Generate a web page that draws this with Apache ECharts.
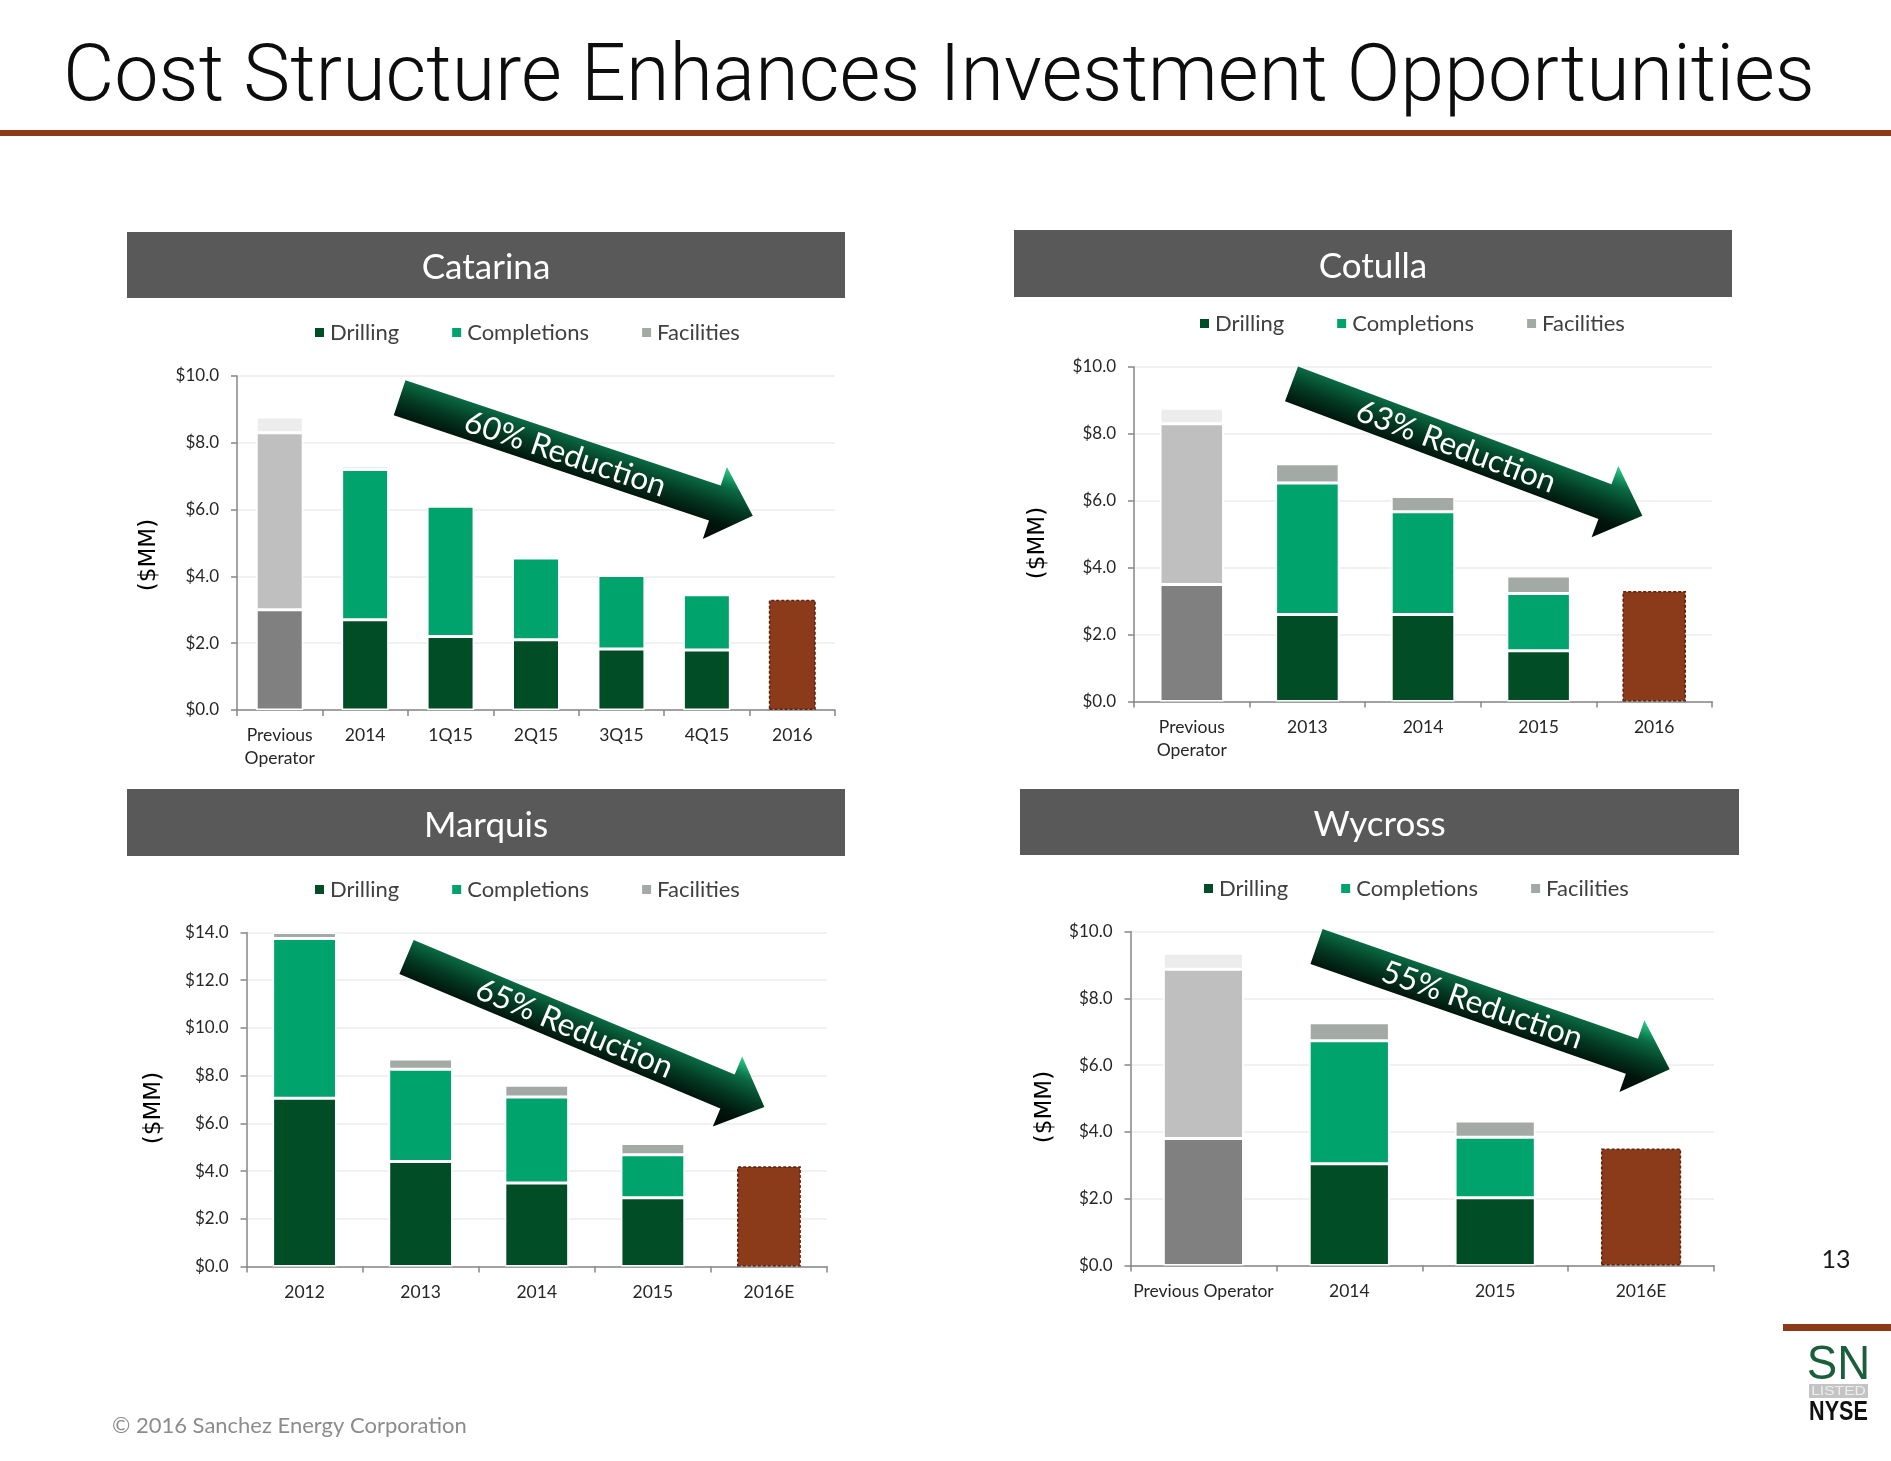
<!DOCTYPE html>
<html><head><meta charset="utf-8">
<script src="https://cdn.jsdelivr.net/npm/echarts/dist/echarts.min.js"></script>
<style>html,body{margin:0;padding:0;background:#fff}#c{width:1891px;height:1461px}</style>
</head><body><div id="c"></div><script>
// ---------- data ----------
const catarinaCats = ['Previous\nOperator','2014','1Q15','2Q15','3Q15','4Q15','2016'];
const catarinaDrilling = [3.0, 2.7, 2.2, 2.1, 1.83, 1.8, null];
const catarinaCompletions = [5.3, 4.5, 3.9, 2.45, 2.2, 1.65, null];
const catarinaFacilities = [0.47, 0.1, 0.05, 0.08, 0.08, 0.09, null];
const catarinaTarget = [null, null, null, null, null, null, 3.3];

const cotullaCats = ['Previous\nOperator','2013','2014','2015','2016'];
const cotullaDrilling = [3.5, 2.6, 2.6, 1.52, null];
const cotullaCompletions = [4.8, 3.93, 3.07, 1.71, null];
const cotullaFacilities = [0.47, 0.58, 0.46, 0.52, null];
const cotullaTarget = [null, null, null, null, 3.3];

const marquisCats = ['2012','2013','2014','2015','2016E'];
const marquisDrilling = [7.05, 4.4, 3.5, 2.88, null];
const marquisCompletions = [6.7, 3.87, 3.6, 1.8, null];
const marquisFacilities = [0.25, 0.43, 0.5, 0.48, null];
const marquisTarget = [null, null, null, null, 4.2];

const wycrossCats = ['Previous Operator','2014','2015','2016E'];
const wycrossDrilling = [3.8, 3.05, 2.03, null];
const wycrossCompletions = [5.07, 3.68, 1.81, null];
const wycrossFacilities = [0.48, 0.54, 0.49, null];
const wycrossTarget = [null, null, null, 3.5];

const panelTitles = ['Catarina','Cotulla','Marquis','Wycross'];
const reductionLabels = ['60% Reduction','63% Reduction','65% Reduction','55% Reduction'];
const yMax = [10, 10, 14, 10];
const yTickStep = 2;
const seriesNames = ['Drilling','Completions','Facilities'];
const yAxisTitle = '($MM)';
const slideTitle = 'Cost Structure Enhances Investment Opportunities';
const footerText = '\u00A9 2016 Sanchez Energy Corporation';
const pageNumber = '13';

// ---------- layout & style ----------
const panels = [
  {cats:catarinaCats, d:catarinaDrilling, c:catarinaCompletions, f:catarinaFacilities, t:catarinaTarget, prev:true,
   grid:{left:237, top:376, width:598, height:334}, header:{x:127,y:232,w:718,h:66}, legendLeft:313, legendTop:320.5,
   ylab:{x:149,y:555}, arrow:{sx:399.6,sy:397.7,tx:752.8,ty:515.7}},
  {cats:cotullaCats, d:cotullaDrilling, c:cotullaCompletions, f:cotullaFacilities, t:cotullaTarget, prev:true,
   grid:{left:1134, top:367, width:578, height:334.5}, header:{x:1014,y:230,w:718,h:67}, legendLeft:1198, legendTop:311.5,
   ylab:{x:1038,y:543}, arrow:{sx:1291.5,sy:383.9,tx:1642.4,ty:515.7}},
  {cats:marquisCats, d:marquisDrilling, c:marquisCompletions, f:marquisFacilities, t:marquisTarget, prev:false,
   grid:{left:246.5, top:932.5, width:580.5, height:334}, header:{x:127,y:789,w:718,h:67}, legendLeft:313, legendTop:877.5,
   ylab:{x:154,y:1108}, arrow:{sx:406.5,sy:957,tx:764.4,ty:1107}},
  {cats:wycrossCats, d:wycrossDrilling, c:wycrossCompletions, f:wycrossFacilities, t:wycrossTarget, prev:true,
   grid:{left:1130.5, top:931.5, width:583.5, height:334}, header:{x:1020,y:789,w:719,h:66}, legendLeft:1202, legendTop:876.5,
   ylab:{x:1045,y:1107}, arrow:{sx:1316.5,sy:946.5,tx:1669.7,ty:1069.3}}
];
const seriesColors = ['#014d25','#00a36b','#a3aaa5'];
const prevColors = ['#808080','#bfbfbf','#ececec'];
const targetColor = '#8b3a1a';
const FONT = 'Lato, "Open Sans", sans-serif';
const axisColor = '#868686';
const textColor = '#262626';

const chart = echarts.init(document.getElementById('c'), null, {renderer:'canvas'});

const grids=[], xAxes=[], yAxes=[], legends=[], series=[], graphics=[];

panels.forEach((p,i)=>{
  grids.push(Object.assign({containLabel:false}, p.grid));
  xAxes.push({type:'category', gridIndex:i, data:p.cats,
    axisLine:{show:true, lineStyle:{color:axisColor, width:1.5}},
    axisTick:{show:true, length:6, lineStyle:{color:axisColor, width:1.5}},
    axisLabel:{interval:0, margin:14, fontSize:17.5, lineHeight:23, color:textColor, fontFamily:FONT},
    splitLine:{show:false}});
  yAxes.push({type:'value', gridIndex:i, min:0, max:yMax[i], interval:yTickStep,
    axisLine:{show:true, lineStyle:{color:axisColor, width:1.5}},
    axisTick:{show:true, length:6, lineStyle:{color:axisColor, width:1.5}},
    axisLabel:{margin:18, fontSize:17, color:textColor, fontFamily:FONT, formatter:v=>'$'+v.toFixed(1)},
    splitLine:{show:true, lineStyle:{color:'#ececec', width:1.5}}});
  legends.push({data:seriesNames, left:p.legendLeft, top:p.legendTop, orient:'horizontal', icon:'rect',
    itemWidth:11, itemHeight:11, itemGap:51, selectedMode:false, padding:0,
    textStyle:{fontSize:22, lineHeight:24, color:'#404040', fontFamily:FONT}});
  const arrs=[p.d,p.c,p.f];
  arrs.forEach((arr,k)=>{
    series.push({type:'bar', name:seriesNames[k], stack:'s'+i, xAxisIndex:i, yAxisIndex:i, barWidth:'55%',
      itemStyle:{color:seriesColors[k], borderColor:'#fff', borderWidth:1.5},
      data:arr.map((v,j)=> (p.prev && j===0) ? {value:v, itemStyle:{color:prevColors[k]}} : v)});
  });
  series.push({type:'bar', name:'Target', stack:'s'+i, xAxisIndex:i, yAxisIndex:i, barWidth:'55%',
    itemStyle:{color:targetColor, borderColor:'#5a2410', borderWidth:1.5, borderType:[3,2]},
    data:p.t});

  // header bar
  const h=p.header;
  graphics.push({type:'rect', shape:{x:h.x,y:h.y,width:h.w,height:h.h}, style:{fill:'#595959'}, z:1});
  graphics.push({type:'text', x:h.x+h.w/2, y:h.y+h.h/2+3, z:2,
    style:{text:panelTitles[i], fill:'#fff', fontSize:35, fontFamily:FONT, textAlign:'center', align:'center', textVerticalAlign:'middle', verticalAlign:'middle'}});
  // y axis title
  graphics.push({type:'text', x:p.ylab.x, y:p.ylab.y, rotation:Math.PI/2, z:2,
    style:{text:yAxisTitle, fill:'#000', fontSize:23, fontFamily:'"DejaVu Sans", sans-serif', textAlign:'center', align:'center', textVerticalAlign:'middle', verticalAlign:'middle'}});
  // arrow
  const a=p.arrow, dx=a.tx-a.sx, dy=a.ty-a.sy, L=Math.hypot(dx,dy), ang=Math.atan2(dy,dx);
  const hw=18.5, hh=38, hl=40;
  graphics.push({type:'group', x:a.sx, y:a.sy, rotation:-ang, z:100, children:[
    {type:'polygon', z:100, shape:{points:[[0,-hw],[L-hl,-hw],[L-hl,-hh],[L,0],[L-hl,hh],[L-hl,hw],[0,hw]]},
      style:{fill:{type:'linear',x:0,y:0,x2:0,y2:1,colorStops:[
        {offset:0,color:'#2fd08e'},{offset:0.2,color:'#0f8053'},{offset:0.26,color:'#0a6a43'},
        {offset:0.5,color:'#033b24'},{offset:0.74,color:'#00160d'},{offset:1,color:'#000805'}]}}},
    {type:'text', z:101, x:L*0.47, y:1,
      style:{text:reductionLabels[i], fill:'#fff', fontSize:31.5, fontFamily:FONT, textAlign:'center', align:'center', textVerticalAlign:'middle', verticalAlign:'middle'}}
  ]});
});

// page decorations
graphics.push({type:'text', x:63, y:80, z:5,
  style:{text:slideTitle, fill:'#0d0d0d', fontSize:79, fontWeight:300, fontFamily:'Roboto, Lato, sans-serif', textAlign:'left', align:'left', textVerticalAlign:'middle', verticalAlign:'middle'}});
graphics.push({type:'rect', shape:{x:0,y:130,width:1891,height:6}, style:{fill:'#8b3a1a'}});
graphics.push({type:'text', x:112, y:1426,
  style:{text:footerText, fill:'#8c8c8c', fontSize:22, fontFamily:FONT, textAlign:'left', align:'left', textVerticalAlign:'middle', verticalAlign:'middle'}});
graphics.push({type:'text', x:1836, y:1260,
  style:{text:pageNumber, fill:'#1a1a1a', fontSize:25, fontFamily:FONT, textAlign:'center', align:'center', textVerticalAlign:'middle', verticalAlign:'middle'}});
graphics.push({type:'rect', shape:{x:1783,y:1324,width:108,height:7}, style:{fill:'#8b3a1a'}});
// SN listed NYSE logo
graphics.push({type:'text', x:1838.5, y:1366, scaleX:0.95,
  style:{text:'SN', fill:'#1b5e3b', fontSize:48, fontFamily:'"Liberation Sans", Arial, sans-serif', textAlign:'center', align:'center', textVerticalAlign:'middle', verticalAlign:'middle'}});
graphics.push({type:'rect', shape:{x:1809,y:1384,width:59,height:14}, style:{fill:'#c4c4c4'}});
graphics.push({type:'text', x:1838.5, y:1391.5, scaleX:1.2,
  style:{text:'LISTED', fill:'#ededed', fontSize:13, fontFamily:'"Liberation Sans", Arial, sans-serif', textAlign:'center', align:'center', textVerticalAlign:'middle', verticalAlign:'middle'}});
graphics.push({type:'text', x:1838.5, y:1413, scaleX:0.8,
  style:{text:'NYSE', fill:'#111', fontSize:27, fontWeight:'bold', fontFamily:'"Liberation Sans", Arial, sans-serif', textAlign:'center', align:'center', textVerticalAlign:'middle', verticalAlign:'middle'}});

chart.setOption({
  animation:false,
  backgroundColor:'#ffffff',
  grid:grids, xAxis:xAxes, yAxis:yAxes, legend:legends, series:series,
  graphic:{elements:graphics}
});
</script></body></html>
